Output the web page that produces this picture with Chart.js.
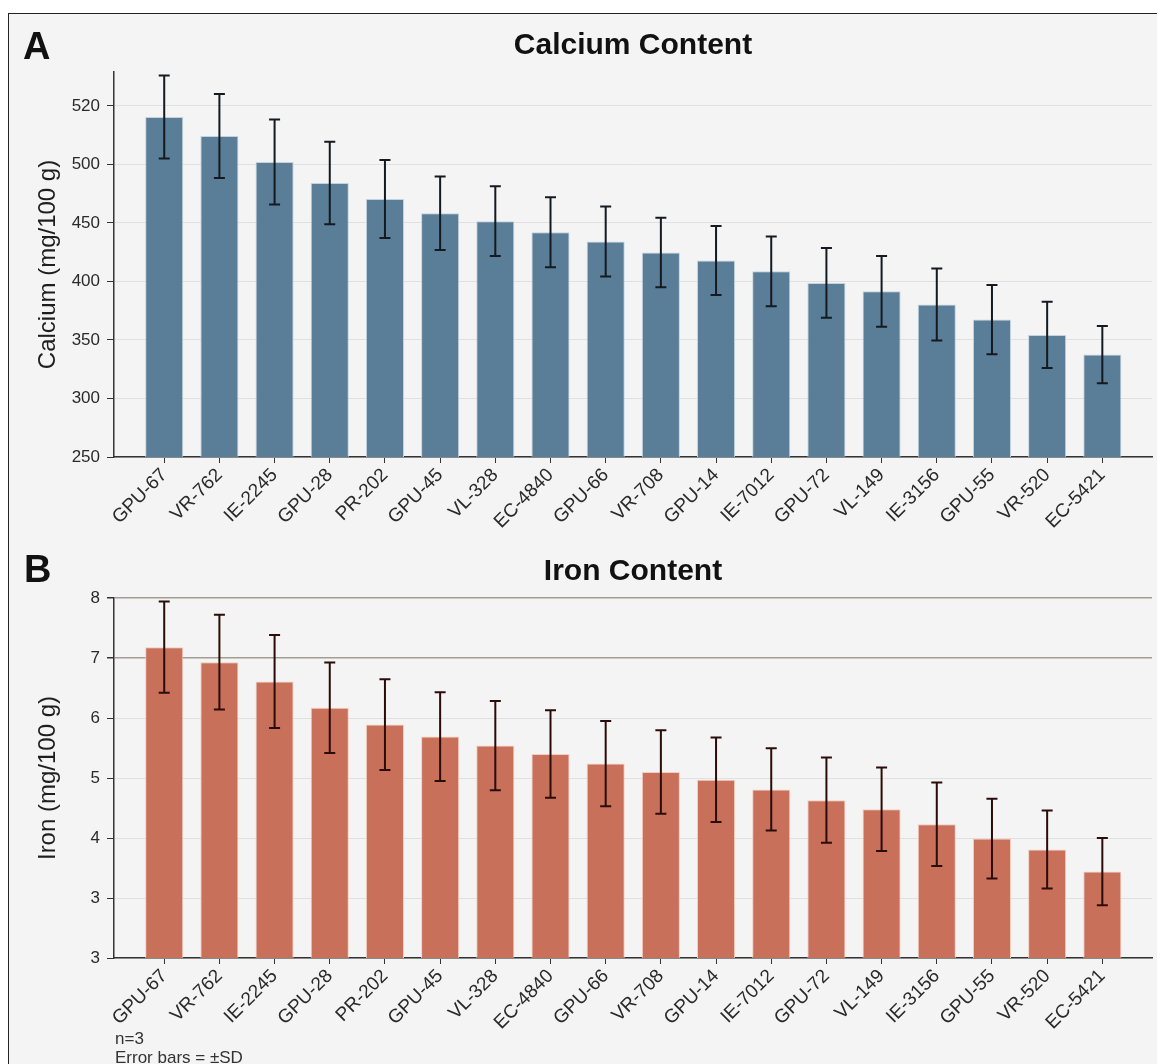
<!DOCTYPE html>
<html>
<head>
<meta charset="utf-8">
<script src="https://cdn.jsdelivr.net/npm/chart.js@4.4.1/dist/chart.umd.min.js"></script>
<style>
  body { margin: 0; background: #fff; font-family: "Liberation Sans", Arial, sans-serif; }
  #fig { position: absolute; left: 8px; top: 13px; width: 1149px; height: 1051px; background: #f4f4f4;
         border-left: 1px solid #222; border-top: 1px solid #222; overflow: hidden; }
  #fig canvas { position: absolute; left: 0; }
  .letter { position: absolute; font-weight: bold; font-size: 38px; line-height: 38px; color: #111; }
  .title { position: absolute; left: 105px; width: 1038px; text-align: center; font-weight: bold;
           font-size: 30px; line-height: 30px; color: #111; }
  .note { position: absolute; left: 106px; top: 1015px; font-size: 17px; line-height: 19px; color: #333; }
</style>
</head>
<body>
<div id="fig">
  <canvas id="calcium-chart" width="1148" height="540" style="top:0"></canvas>
  <canvas id="iron-chart" width="1148" height="519" style="top:531px"></canvas>
  <div class="letter" style="left:14px; top:13px">A</div>
  <div class="title" style="top:15px">Calcium Content</div>
  <div class="letter" style="left:15px; top:536px">B</div>
  <div class="title" style="top:541px">Iron Content</div>
  <div class="note">n=3<br>Error bars = ±SD</div>
</div>
<script>
const categories = ['GPU-67', 'VR-762', 'IE-2245', 'GPU-28', 'PR-202', 'GPU-45', 'VL-328', 'EC-4840', 'GPU-66',
  'VR-708', 'GPU-14', 'IE-7012', 'GPU-72', 'VL-149', 'IE-3156', 'GPU-55', 'VR-520', 'EC-5421'];

const calcium = [540.6, 524.4, 502.1, 484.2, 470.5, 458.3, 451.5, 442.0, 434.1, 424.7, 417.9, 408.7, 398.7, 391.6, 380.3, 367.4, 354.3, 337.5];
const calciumSd = [35.5, 35.9, 36.3, 35.2, 33.4, 31.4, 29.8, 29.9, 29.9, 29.7, 29.5, 29.8, 29.8, 30.2, 30.8, 29.5, 28.3, 24.4];

const iron = [7.18, 6.93, 6.61, 6.17, 5.89, 5.69, 5.54, 5.40, 5.24, 5.10, 4.97, 4.81, 4.63, 4.48, 4.23, 3.99, 3.81, 3.44];
const ironSd = [0.76, 0.79, 0.775, 0.755, 0.755, 0.74, 0.745, 0.73, 0.71, 0.695, 0.705, 0.685, 0.71, 0.695, 0.695, 0.665, 0.65, 0.56];

const calciumTicks = [250, 300, 350, 400, 450, 500, 550];
const calciumTickLabels = ['250', '300', '350', '400', '450', '500', '520'];
const ironTicks = [2, 3, 4, 5, 6, 7, 8];
const ironTickLabels = ['3', '3', '4', '5', '6', '7', '8'];

Chart.defaults.font.family = '"Liberation Sans", Arial, sans-serif';
Chart.defaults.color = '#333';

// whiskers for +-SD, placed with the chart's own y scale
function errorBarsPlugin(values, sd, color) {
  return {
    id: 'errorBars',
    afterDatasetsDraw(chart) {
      const ctx = chart.ctx;
      const yScale = chart.scales.y;
      const meta = chart.getDatasetMeta(0);
      ctx.save();
      ctx.strokeStyle = color;
      ctx.lineWidth = 2;
      meta.data.forEach((bar, i) => {
        const top = yScale.getPixelForValue(values[i] + sd[i]);
        const bottom = yScale.getPixelForValue(values[i] - sd[i]);
        ctx.beginPath();
        ctx.moveTo(bar.x, top);
        ctx.lineTo(bar.x, bottom);
        ctx.moveTo(bar.x - 5.5, top);
        ctx.lineTo(bar.x + 5.5, top);
        ctx.moveTo(bar.x - 5.5, bottom);
        ctx.lineTo(bar.x + 5.5, bottom);
        ctx.stroke();
      });
      ctx.restore();
    }
  };
}

function makeChart(id, values, sd, o) {
  return new Chart(document.getElementById(id), {
    type: 'bar',
    data: {
      datasets: [{
        data: values.map((v, i) => ({ x: i, y: v })),
        backgroundColor: o.color,
        borderColor: o.edge,
        borderWidth: 1,
        categoryPercentage: 1,
        barPercentage: 0.69
      }]
    },
    options: {
      responsive: false,
      animation: false,
      layout: { padding: { top: o.padTop, right: 5, left: 0, bottom: 0 } },
      plugins: { legend: { display: false }, tooltip: { enabled: false } },
      scales: {
        x: {
          type: 'linear',
          min: -0.91,
          max: 17.9,
          offset: false,
          afterBuildTicks: (s) => { s.ticks = categories.map((c, i) => ({ value: i })); },
          afterFit: (s) => { s.height = o.xHeight; },
          ticks: {
            autoSkip: false, minRotation: 45, maxRotation: 45, padding: 1,
            font: { size: 19 }, color: '#2a2a2a',
            callback: (v, i) => categories[i]
          },
          grid: { drawOnChartArea: false, drawTicks: true, tickLength: 6, tickColor: '#333', offset: false },
          border: { color: '#333', width: 1.5 }
        },
        y: {
          min: o.min,
          max: o.max,
          beginAtZero: false,
          afterBuildTicks: (s) => { s.ticks = o.ticks.map((v) => ({ value: v })); },
          afterFit: (s) => { s.width = 105; },
          ticks: { padding: 7, font: { size: 17 }, color: '#2a2a2a', callback: (v, i) => o.tickLabels[i] },
          grid: { color: o.gridColor, lineWidth: o.gridWidth, tickColor: '#333', tickLength: 7 },
          border: { color: '#333', width: 1.5 },
          title: { display: true, text: o.label, font: { size: 24 }, color: '#1e1e1e', padding: { top: 25 } }
        }
      }
    },
    plugins: [errorBarsPlugin(values, sd, o.errColor)]
  });
}

makeChart('calcium-chart', calcium, calciumSd, {
  color: '#5a7e98',
  edge: '#c3d2de',
  errColor: '#141a20',
  padTop: 58,
  xHeight: 97,
  min: 250,
  max: 579,
  ticks: calciumTicks,
  tickLabels: calciumTickLabels,
  gridColor: '#e0e0e0',
  gridWidth: 1,
  label: 'Calcium (mg/100 g)'
});

makeChart('iron-chart', iron, ironSd, {
  color: '#c9705a',
  edge: '#f3cdbd',
  errColor: '#2a0c08',
  padTop: 53,
  xHeight: 106,
  min: 2,
  max: 8,
  ticks: ironTicks,
  tickLabels: ironTickLabels,
  gridColor: (ctx) => (ctx.tick && ctx.tick.value >= 7 ? '#a39d95' : '#e0e0e0'),
  gridWidth: (ctx) => (ctx.tick && ctx.tick.value >= 7 ? 1.5 : 1),
  label: 'Iron (mg/100 g)'
});
</script>
</body>
</html>
